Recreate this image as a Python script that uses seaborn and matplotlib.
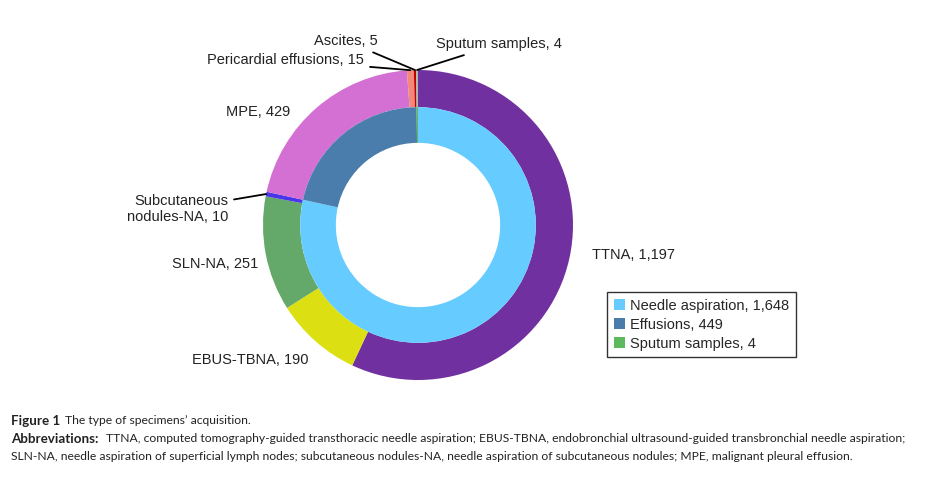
import numpy as np
import matplotlib.pyplot as plt
import seaborn as sns
from matplotlib.patches import Patch

sns.set_style("white")
plt.rcParams['font.family'] = ['Liberation Sans', 'DejaVu Sans']

# outer ring (specimen type)
outer_labels = ["TTNA", "EBUS-TBNA", "SLN-NA", "Subcutaneous\nnodules-NA", "MPE",
                "Pericardial effusions", "Ascites", "Sputum samples"]
outer_values = [1197, 190, 251, 10, 429, 15, 5, 4]
outer_colors = ["#7030A0", "#DCE013", "#64A86A", "#4B35E8", "#D46FD3",
                "#F3877A", "#C00000", "#A8BDA6"]

# inner ring (category)
inner_labels = ["Needle aspiration", "Effusions", "Sputum samples"]
inner_values = [1648, 449, 4]
inner_colors = ["#66CCFF", "#4A7DAB", "#5DB95D"]

W, H = 927, 478
fig = plt.figure(figsize=(W / 100, H / 100), dpi=100)

cx, cy, R = 418, 225, 155
ax = fig.add_axes([(cx - R) / W, 1 - (cy + R) / H, 2 * R / W, 2 * R / H])

ax.pie(outer_values, radius=1.0, colors=outer_colors, startangle=90,
       counterclock=False, wedgeprops=dict(width=0.24, edgecolor="none"))
ax.pie(inner_values, radius=0.76, colors=inner_colors, startangle=90,
       counterclock=False, wedgeprops=dict(width=0.23, edgecolor="none"))
ax.set_xlim(-1, 1)
ax.set_ylim(-1, 1)
ax.set_aspect("equal")
ax.axis("off")


def fmt(v):
    return f"{v:,}"


# mid angles of outer wedges
vals = np.array(outer_values, dtype=float)
cum = np.cumsum(vals) - vals / 2
mid = np.deg2rad(90 - 360 * cum / vals.sum())

# text positions in figure pixels (from top), alignment, leader line?
label_pos = {
    "TTNA": (592, 255, "left", False),
    "EBUS-TBNA": (309, 360, "right", False),
    "SLN-NA": (258, 264, "right", False),
    "Subcutaneous\nnodules-NA": (228, 209, "right", True),
    "MPE": (290, 112, "right", False),
    "Pericardial effusions": (364, 60, "right", True),
    "Ascites": (378, 41, "right", True),
    "Sputum samples": (436, 44, "left", True),
}

for i, lab in enumerate(outer_labels):
    x, y, ha, leader = label_pos[lab]
    txt = f"{lab}, {fmt(outer_values[i])}"
    if leader:
        px, py = np.cos(mid[i]) * 1.0, np.sin(mid[i]) * 1.0
        ax.annotate(txt, xy=(px, py), xycoords="data",
                    xytext=(x, H - y), textcoords="figure pixels",
                    ha=ha, va="center", fontsize=10.5, color="#222222",
                    linespacing=1.2,
                    arrowprops=dict(arrowstyle="-", color="black", lw=1.3,
                                    shrinkA=2, shrinkB=0))
    else:
        fig.text(x / W, 1 - y / H, txt, ha=ha, va="center",
                 fontsize=10.5, color="#222222")

handles = [Patch(facecolor=c, edgecolor="none") for c in inner_colors]
leg_labels = [f"{l}, {fmt(v)}" for l, v in zip(inner_labels, inner_values)]
leg = fig.legend(handles, leg_labels, loc="upper left",
                 bbox_to_anchor=(607 / W, 1 - 292 / H),
                 fontsize=10.5, frameon=True, fancybox=False,
                 handlelength=0.75, handleheight=0.75, handletextpad=0.4,
                 labelspacing=0.35, borderpad=0.45, borderaxespad=0)
leg.get_frame().set_edgecolor("black")
leg.get_frame().set_linewidth(1.0)

# caption
cap_font = ['Lato', 'DejaVu Sans']
cap_size = 8.7


def caption_line(y, bold, x_rest, rest):
    fig.text(11 / W, 1 - y / H, bold, fontsize=9.6, fontweight="bold",
             family=cap_font, va="center", color="#222222")
    fig.text(x_rest / W, 1 - y / H, rest, fontsize=cap_size,
             family=cap_font, va="center", color="#222222")


caption_line(421, "Figure 1", 65, "The type of specimens\u2019 acquisition.")
caption_line(439, "Abbreviations:", 106,
             "TTNA, computed tomography-guided transthoracic needle aspiration; "
             "EBUS-TBNA, endobronchial ultrasound-guided transbronchial needle aspiration;")
fig.text(11 / W, 1 - 456 / H,
         "SLN-NA, needle aspiration of superficial lymph nodes; subcutaneous nodules-NA, "
         "needle aspiration of subcutaneous nodules; MPE, malignant pleural effusion.",
         fontsize=cap_size, family=cap_font, va="center", color="#222222")

fig.savefig("out.png", dpi=100)
